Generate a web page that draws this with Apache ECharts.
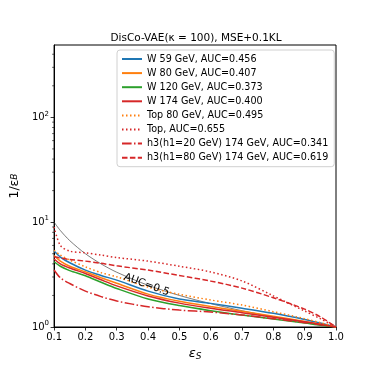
<!DOCTYPE html>
<html>
<head>
<meta charset="utf-8">
<script src="https://cdn.jsdelivr.net/npm/echarts@6/dist/echarts.min.js"></script>
<style>
  html, body { margin: 0; padding: 0; background: #fff; }
  #chart { width: 374px; height: 374px; }
</style>
</head>
<body>
<div id="chart"></div>
<script>
  // signal efficiency grid (shared by all curves)
  const effS = [0.1, 0.12, 0.15, 0.2, 0.25, 0.3, 0.4, 0.5, 0.6, 0.7, 0.8, 0.9, 0.95, 1.0]

  // 1/eps_B
  const randomLine = [10, 8.33, 6.67, 5, 4, 3.33, 2.5, 2, 1.67, 1.43, 1.25, 1.11, 1.05, 1]
  const w59 = [5.3, 4.65, 4.1, 3.49, 3.1, 2.8, 2.2, 1.85, 1.68, 1.51, 1.35, 1.18, 1.09, 1]
  const w80 = [4.8, 4.25, 3.8, 3.36, 2.95, 2.61, 2.06, 1.76, 1.57, 1.41, 1.27, 1.13, 1.06, 1]
  const w120 = [4.19, 3.8, 3.45, 3.08, 2.67, 2.33, 1.85, 1.6, 1.43, 1.3, 1.19, 1.09, 1.04, 1]
  const w174 = [4.45, 4.0, 3.65, 3.24, 2.82, 2.47, 1.98, 1.69, 1.51, 1.37, 1.24, 1.12, 1.06, 1]
  const top80 = [5.4, 4.85, 4.35, 3.75, 3.3, 3.01, 2.4, 2.05, 1.81, 1.62, 1.4, 1.2, 1.1, 1]
  const topAll = [9.0, 6.0, 5.3, 5.1, 4.85, 4.6, 4.25, 3.8, 3.35, 2.75, 1.98, 1.42, 1.2, 1]
  const h3h20 = [3.5, 2.95, 2.6, 2.2, 1.95, 1.77, 1.56, 1.45, 1.39, 1.3, 1.2, 1.1, 1.05, 1]
  const h3h80 = [4.67, 4.55, 4.4, 4.25, 4.05, 3.83, 3.49, 3.1, 2.74, 2.35, 1.9, 1.48, 1.25, 1]

  const yMinorTicks = [2, 3, 4, 5, 6, 7, 8, 9, 20, 30, 40, 50, 60, 70, 80, 90, 200, 300, 400]

  const FONT = 'DejaVu Sans'
  const BLUE = '#1f77b4'
  const ORANGE = '#ff7f0e'
  const GREEN = '#2ca02c'
  const RED = '#d62728'

  const pairs = (ys) => effS.map((x, i) => [x, ys[i]])

  const curve = (name, ys, color, type) => ({
    name: name,
    type: 'line',
    data: pairs(ys),
    symbol: 'none',
    smooth: 0.3,
    lineStyle: { color: color, width: 1.5, type: type || 'solid' },
    itemStyle: { color: color },
    z: 3
  })

  const chart = echarts.init(document.getElementById('chart'), null, { renderer: 'canvas' })

  const option = {
    animation: false,
    backgroundColor: '#fff',
    textStyle: { fontFamily: FONT },
    title: {
      text: 'DisCo-VAE(\u03ba = 100), MSE+0.1KL',
      left: 191,
      textAlign: 'center',
      top: 28,
      textStyle: { fontFamily: FONT, fontSize: 10.5, fontWeight: 'normal', color: '#000' }
    },
    grid: {
      left: 46,
      right: 38,
      top: 45,
      bottom: 47,
      show: true,
      borderColor: '#000',
      borderWidth: 1,
      backgroundColor: 'transparent'
    },
    legend: {
      orient: 'vertical',
      left: 117,
      top: 50,
      width: 215,
      itemWidth: 20,
      itemHeight: 10,
      itemGap: 4.1,
      padding: [4, 6, 4, 4],
      borderColor: '#d0d0d0',
      borderWidth: 1,
      borderRadius: 3,
      backgroundColor: 'rgba(255,255,255,0.8)',
      itemStyle: { opacity: 0 },
      textStyle: { fontFamily: FONT, fontSize: 9.6, color: '#000' },
      data: [
        'W 59 GeV, AUC=0.456',
        'W 80 GeV, AUC=0.407',
        'W 120 GeV, AUC=0.373',
        'W 174 GeV, AUC=0.400',
        'Top 80 GeV, AUC=0.495',
        'Top, AUC=0.655',
        'h3(h1=20 GeV) 174 GeV, AUC=0.341',
        'h3(h1=80 GeV) 174 GeV, AUC=0.619'
      ]
    },
    xAxis: {
      type: 'value',
      min: 0.1,
      max: 1.0,
      interval: 0.1,
      name: '\u03b5{sub|S}',
      nameLocation: 'middle',
      nameGap: 19,
      nameTextStyle: {
        fontFamily: FONT, fontSize: 13, fontStyle: 'italic', color: '#000',
        rich: { sub: { fontFamily: FONT, fontSize: 9, fontStyle: 'italic', padding: [6, 0, 0, 0], color: '#000' } }
      },
      axisLine: { show: true, lineStyle: { color: '#000', width: 1 } },
      axisTick: { show: true, inside: false, length: 3.5, lineStyle: { color: '#000', width: 0.8 } },
      axisLabel: {
        fontFamily: FONT, fontSize: 10, color: '#000', margin: 5,
        formatter: (v) => v.toFixed(1)
      },
      splitLine: { show: false }
    },
    yAxis: {
      type: 'log',
      logBase: 10,
      min: 1,
      max: 490,
      name: '1/\u03b5{sub|B}',
      nameLocation: 'middle',
      nameGap: 27,
      nameRotate: 90,
      nameTextStyle: {
        fontFamily: FONT, fontSize: 12.5, color: '#000',
        rich: { sub: { fontFamily: FONT, fontSize: 9, fontStyle: 'italic', color: '#000' } }
      },
      axisLine: { show: true, lineStyle: { color: '#000', width: 1 } },
      axisTick: { show: true, inside: false, length: 3.5, lineStyle: { color: '#000', width: 0.8 } },
      axisLabel: {
        color: '#000', margin: 5, showMaxLabel: false,
        formatter: (v) => {
          const e = Math.round(Math.log10(v))
          if (Math.abs(Math.pow(10, e) - v) > 1e-6 * v) return ''
          return '10{sup|' + e + '}'
        },
        rich: {
          sup: { fontFamily: FONT, fontSize: 7, color: '#000', padding: [0, 0, 7, 0] }
        },
        fontFamily: FONT,
        fontSize: 10
      },
      splitLine: { show: false }
    },
    series: [
      {
        name: 'AUC=0.5',
        type: 'line',
        data: pairs(randomLine),
        symbol: 'none',
        smooth: 0.3,
        lineStyle: { color: '#444', width: 0.7 },
        z: 2,
        markPoint: {
          symbol: 'circle',
          symbolSize: 0,
          data: [{ coord: [0.395, 2.53] }],
          label: {
            show: true,
            formatter: 'AUC=0.5',
            position: 'inside',
            rotate: -20,
            fontFamily: FONT,
            fontSize: 10.5,
            color: '#000'
          }
        }
      },
      curve('W 59 GeV, AUC=0.456', w59, BLUE),
      curve('W 80 GeV, AUC=0.407', w80, ORANGE),
      curve('W 120 GeV, AUC=0.373', w120, GREEN),
      curve('W 174 GeV, AUC=0.400', w174, RED),
      curve('Top 80 GeV, AUC=0.495', top80, ORANGE, [1.5, 2.5]),
      curve('Top, AUC=0.655', topAll, RED, [1.5, 2.5]),
      curve('h3(h1=20 GeV) 174 GeV, AUC=0.341', h3h20, RED, [9.6, 2.4, 1.5, 2.4]),
      curve('h3(h1=80 GeV) 174 GeV, AUC=0.619', h3h80, RED, [5.5, 2.4]),
      {
        name: 'minorTicks',
        type: 'custom',
        clip: false,
        silent: true,
        data: yMinorTicks.map((v) => [0.1, v]),
        renderItem: (params, api) => {
          const p = api.coord([api.value(0), api.value(1)])
          return {
            type: 'line',
            shape: { x1: p[0] - 2, y1: p[1], x2: p[0], y2: p[1] },
            style: { stroke: '#000', lineWidth: 0.6 }
          }
        },
        z: 5
      }
    ]
  }

  option && chart.setOption(option)
</script>
</body>
</html>
